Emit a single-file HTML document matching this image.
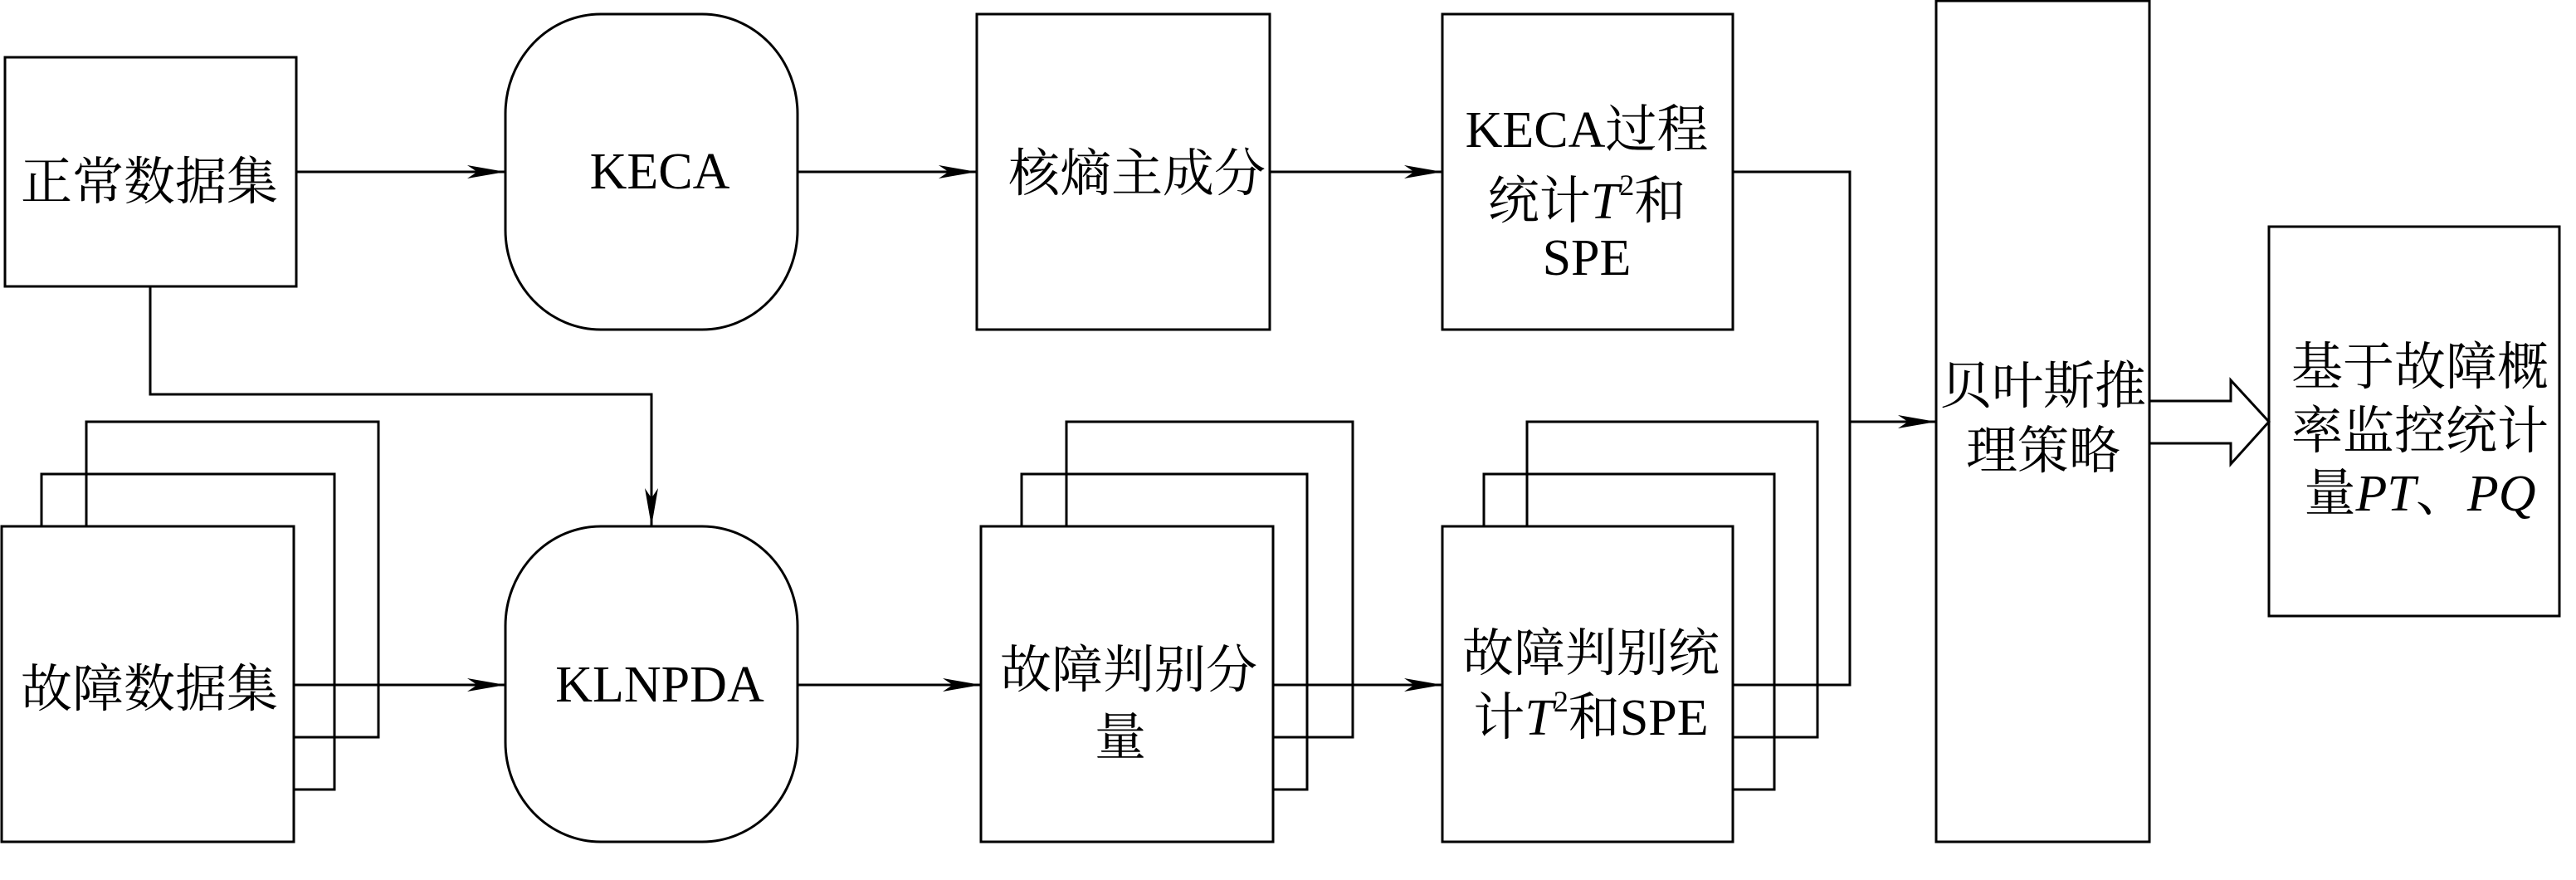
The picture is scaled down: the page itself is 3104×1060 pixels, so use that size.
<!DOCTYPE html>
<html><head><meta charset="utf-8"><style>
html,body{margin:0;padding:0;background:#fff;}
svg{display:block;}
</style></head><body>
<svg width="3104" height="1060" viewBox="0 0 3104 1060" xmlns="http://www.w3.org/2000/svg">
<defs>
<marker id="a" markerWidth="48" markerHeight="20" refX="46" refY="10" orient="auto" markerUnits="userSpaceOnUse">
<path d="M0,2 L46,10 L0,18 L12,10 Z" fill="#000"/>
</marker>
</defs>
<g fill="none" stroke="#000" stroke-width="3">
<rect x="6" y="69" width="351" height="276"/>
<rect x="609" y="17" width="352" height="380" rx="115" ry="120"/>
<rect x="1177" y="17" width="353" height="380"/>
<rect x="1738" y="17" width="350" height="380"/>
<polyline points="104,634 104,508 456,508 456,888 354,888"/>
<polyline points="50,634 50,571 403,571 403,951 354,951"/>
<rect x="2" y="634" width="352" height="380"/>
<rect x="609" y="634" width="352" height="380" rx="115" ry="120"/>
<polyline points="1285,634 1285,508 1630,508 1630,888 1534,888"/>
<polyline points="1231,634 1231,571 1575,571 1575,951 1534,951"/>
<rect x="1182" y="634" width="352" height="380"/>
<polyline points="1840,634 1840,508 2190,508 2190,888 2088,888"/>
<polyline points="1788,634 1788,571 2138,571 2138,951 2088,951"/>
<rect x="1738" y="634" width="350" height="380"/>
<rect x="2333" y="1" width="257" height="1013"/>
<rect x="2734" y="273" width="350" height="469"/>
<line x1="357" y1="207" x2="609" y2="207" marker-end="url(#a)"/>
<line x1="961" y1="207" x2="1177" y2="207" marker-end="url(#a)"/>
<line x1="1530" y1="207" x2="1738" y2="207" marker-end="url(#a)"/>
<polyline points="181,345 181,475 785,475 785,634" marker-end="url(#a)"/>
<line x1="354" y1="825" x2="609" y2="825" marker-end="url(#a)"/>
<line x1="961" y1="825" x2="1182" y2="825" marker-end="url(#a)"/>
<line x1="1534" y1="825" x2="1738" y2="825" marker-end="url(#a)"/>
<polyline points="2088,207 2229,207 2229,825 2088,825"/>
<line x1="2229" y1="508" x2="2333" y2="508" marker-end="url(#a)"/>
<polyline points="2590,483 2688,483 2688,458 2734,508 2688,559 2688,534 2590,534"/>
</g>
<g text-anchor="middle" dominant-baseline="central" font-family="'Liberation Serif', 'Noto Serif CJK SC', serif" font-size="62" fill="#000">
<text x="180" y="220">正常数据集</text>
<text x="795" y="207">KECA</text>
<text x="1370" y="210">核熵主成分</text>
<text x="1912" y="157">KECA过程</text>
<text x="1912" y="243">统计<tspan font-style="italic">T</tspan><tspan font-size="36" dy="-20">2</tspan><tspan dy="20">和</tspan></text>
<text x="1912" y="311">SPE</text>
<text x="180" y="831">故障数据集</text>
<text x="795" y="825">KLNPDA</text>
<text x="1360" y="808">故障判别分</text>
<text x="1350" y="889">量</text>
<text x="1917" y="788">故障判别统</text>
<text x="1917" y="865">计<tspan font-style="italic">T</tspan><tspan font-size="36" dy="-20">2</tspan><tspan dy="20">和SPE</tspan></text>
<text x="2462" y="466">贝叶斯推</text>
<text x="2462" y="544">理策略</text>
<text x="2916" y="443">基于故障概</text>
<text x="2916" y="520">率监控统计</text>
<text x="2916" y="595">量<tspan font-style="italic">PT</tspan>、<tspan font-style="italic">PQ</tspan></text>
</g>
</svg>
</body></html>
